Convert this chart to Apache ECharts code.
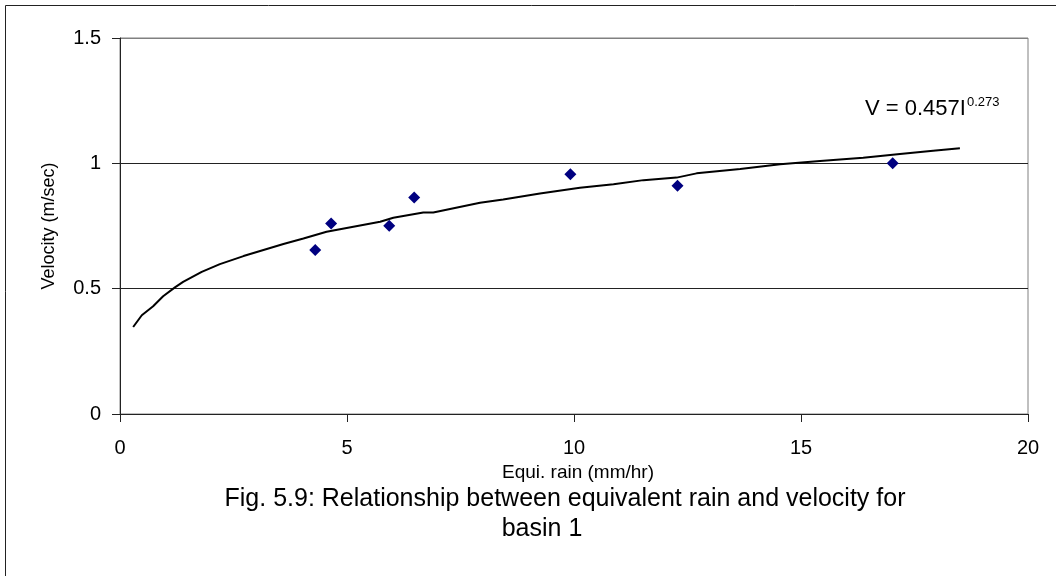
<!DOCTYPE html>
<html>
<head>
<meta charset="utf-8">
<script src="https://cdn.jsdelivr.net/npm/echarts@6/dist/echarts.min.js"></script>
<style>
  html, body { margin: 0; padding: 0; background: #fff; }
  #main { width: 1056px; height: 576px; }
</style>
</head>
<body>
<div id="main"></div>
<script>
// observed points (equivalent rain mm/hr, velocity m/sec)
var rainObs = [4.3, 4.65, 5.93, 6.48, 9.92, 12.28, 17.02];
var velObs = [0.654, 0.760, 0.751, 0.864, 0.956, 0.911, 1.0];

// trend line
var trendX = [0.29, 0.48, 0.73, 0.95, 1.21, 1.39, 1.80, 2.20, 2.72, 3.16, 3.60, 4.04, 4.55, 5.73, 6.02,
  6.68, 6.90, 7.93, 8.44, 9.25, 10.13, 10.87, 11.53, 12.26, 12.70, 13.66, 14.54, 15.42, 16.37, 17.18, 17.91, 18.50];
var trendY = [0.347, 0.394, 0.430, 0.470, 0.505, 0.527, 0.567, 0.598, 0.630, 0.654, 0.678, 0.700, 0.727, 0.767, 0.783,
  0.804, 0.804, 0.843, 0.856, 0.880, 0.903, 0.917, 0.933, 0.943, 0.960, 0.977, 0.996, 1.009, 1.022, 1.037, 1.050, 1.060];

var xTicks = [0, 5, 10, 15, 20];
var yTicks = [0, 0.5, 1, 1.5];

var font = 'Arial, "Liberation Sans", sans-serif';

var obs = rainObs.map(function (x, i) { return [x, velObs[i]]; });
var trend = trendX.map(function (x, i) { return [x, trendY[i]]; });

var chart = echarts.init(document.getElementById('main'));

var option = {
  backgroundColor: '#fff',
  animation: false,
  title: [
    {
      text: 'Fig. 5.9: Relationship between equivalent rain and velocity for',
      left: 560, top: 482, textAlign: 'center',
      textStyle: { fontFamily: font, fontSize: 25, fontWeight: 'normal', color: '#000' }
    },
    {
      text: 'basin 1',
      left: 537, top: 512, textAlign: 'center',
      textStyle: { fontFamily: font, fontSize: 25, fontWeight: 'normal', color: '#000' }
    }
  ],
  grid: {
    left: 120, top: 38, right: 28, bottom: 162,
    show: true, borderColor: '#808080', borderWidth: 1
  },
  xAxis: {
    type: 'value', min: xTicks[0], max: xTicks[xTicks.length - 1], interval: 5,
    name: 'Equi. rain (mm/hr)', nameLocation: 'middle', nameGap: 46,
    nameTextStyle: { fontFamily: font, fontSize: 19, color: '#000', padding: [0, 0, 0, 8] },
    axisLine: { show: true, lineStyle: { color: '#222', width: 1 } },
    axisTick: { show: true, length: 8, lineStyle: { color: '#222' } },
    axisLabel: { fontFamily: font, fontSize: 20, color: '#000', margin: 24 },
    splitLine: { show: false }
  },
  yAxis: {
    type: 'value', min: yTicks[0], max: yTicks[yTicks.length - 1], interval: 0.5,
    name: 'Velocity (m/sec)', nameLocation: 'middle', nameGap: 62,
    nameTextStyle: { fontFamily: font, fontSize: 18, color: '#000' },
    axisLine: { show: true, lineStyle: { color: '#222', width: 1 } },
    axisTick: { show: true, length: 8, lineStyle: { color: '#222' } },
    axisLabel: { fontFamily: font, fontSize: 20, color: '#000', margin: 19 },
    splitLine: { show: true, lineStyle: { color: ['#222', '#222', '#222', '#808080'], width: 1 } }
  },
  graphic: [
    // outer frame
    { type: 'rect', shape: { x: 5.5, y: 5.5, width: 1100, height: 700 }, style: { fill: null, stroke: '#222', lineWidth: 1 }, z: -1 },
    { type: 'text', x: 865, y: 109, style: { text: 'V = 0.457I', font: '22px ' + font, fill: '#000', verticalAlign: 'middle' } },
    { type: 'text', x: 967, y: 102, style: { text: '0.273', font: '13px ' + font, fill: '#000', verticalAlign: 'middle' } }
  ],
  series: [
    {
      type: 'line', data: trend, showSymbol: false, symbol: 'none', smooth: false,
      lineStyle: { color: '#000', width: 2 }, z: 2
    },
    {
      type: 'scatter', data: obs, symbol: 'diamond', symbolSize: 12,
      itemStyle: { color: '#000080', opacity: 1 }, z: 3
    }
  ]
};

chart.setOption(option);
</script>
</body>
</html>
